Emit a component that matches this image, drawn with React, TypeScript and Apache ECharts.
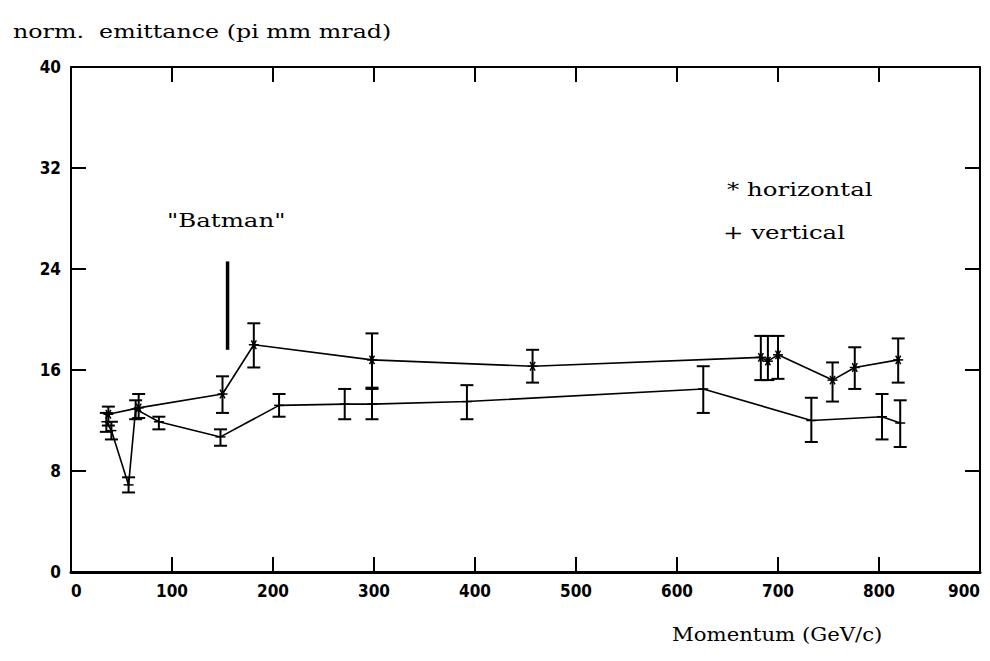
import React, { useEffect, useRef } from "react";
import * as echarts from "echarts";

// x-axis ticks (GeV/c) and y-axis ticks (pi mm mrad)
const xTicks = [0, 100, 200, 300, 400, 500, 600, 700, 800, 900];
const yTicks = [0, 8, 16, 24, 32, 40];

// horizontal emittance (*)
const hX = [37, 67, 150, 181, 298, 457, 683, 690, 700, 754, 776, 819];
const hY = [12.5, 13.0, 14.1, 18.0, 16.8, 16.3, 17.0, 16.7, 17.2, 15.2, 16.2, 16.8];
const hLo = [11.6, 12.2, 12.6, 16.2, 14.6, 15.0, 15.2, 15.2, 15.3, 13.5, 14.5, 15.0];
const hHi = [13.1, 14.1, 15.5, 19.7, 18.9, 17.6, 18.7, 18.7, 18.7, 16.6, 17.8, 18.5];

// vertical emittance (+)
const vX = [35, 40, 57, 64, 87, 148, 206, 271, 298, 392, 626, 733, 803, 821];
const vY = [11.9, 11.2, 6.9, 12.9, 11.9, 10.7, 13.2, 13.3, 13.3, 13.5, 14.5, 12.0, 12.3, 11.8];
const vLo = [11.1, 10.5, 6.3, 12.1, 11.3, 10.0, 12.3, 12.1, 12.1, 12.1, 12.6, 10.3, 10.5, 9.9];
const vHi = [12.6, 11.9, 7.5, 13.6, 12.3, 11.3, 14.1, 14.5, 14.5, 14.8, 16.3, 13.8, 14.1, 13.6];

// "Batman" marker line
const batmanX = 155;
const batmanY = [24.6, 17.6];

const SERIF = "'DejaVu Serif', 'Liberation Serif', serif";
const NARROW = "'Liberation Sans Narrow', 'DejaVu Sans Condensed', 'Liberation Sans', sans-serif";

const makeErr = (star: boolean) => (params: any, api: any) => {
  const x = api.value(0);
  const y = api.value(1);
  const lo = api.value(2);
  const hi = api.value(3);
  const c = api.coord([x, y]);
  const pl = api.coord([x, lo]);
  const ph = api.coord([x, hi]);
  const cap = 6.5;
  const st = { stroke: "#000", lineWidth: 2 };
  const children: any[] = [
    { type: "line", shape: { x1: pl[0], y1: pl[1], x2: ph[0], y2: ph[1] }, style: st },
    { type: "line", shape: { x1: pl[0] - cap, y1: pl[1], x2: pl[0] + cap, y2: pl[1] }, style: st },
    { type: "line", shape: { x1: ph[0] - cap, y1: ph[1], x2: ph[0] + cap, y2: ph[1] }, style: st },
  ];
  const ms = { stroke: "#000", lineWidth: 1.5 };
  if (star) {
    const r = 5;
    const dx = r * Math.cos(Math.PI / 3);
    const dy = r * Math.sin(Math.PI / 3);
    children.push(
      { type: "line", shape: { x1: c[0] - dx, y1: c[1] - dy, x2: c[0] + dx, y2: c[1] + dy }, style: ms },
      { type: "line", shape: { x1: c[0] - dx, y1: c[1] + dy, x2: c[0] + dx, y2: c[1] - dy }, style: ms },
      { type: "line", shape: { x1: c[0] - r, y1: c[1], x2: c[0] + r, y2: c[1] }, style: ms },
      { type: "circle", shape: { cx: c[0], cy: c[1], r: 2 }, style: { fill: "#000" } }
    );
  } else {
    children.push({ type: "line", shape: { x1: c[0] - 5, y1: c[1], x2: c[0] + 5, y2: c[1] }, style: ms });
  }
  return { type: "group", children };
};

export default function App() {
  const ref = useRef<HTMLDivElement>(null);
  useEffect(() => {
    if (!ref.current) return;
    const chart = echarts.init(ref.current, null, { renderer: "svg" });
    const hLine = hX.map((x, i) => [x, hY[i]]);
    const vLine = vX.map((x, i) => [x, vY[i]]);
    const hErr = hX.map((x, i) => [x, hY[i], hLo[i], hHi[i]]);
    const vErr = vX.map((x, i) => [x, vY[i], vLo[i], vHi[i]]);
    const axisLine = { show: true, onZero: false, lineStyle: { color: "#000", width: 2 } };
    const tick = { show: true, inside: true, length: 15, lineStyle: { color: "#000", width: 2 } };
    const xMin = xTicks[0];
    const xMax = xTicks[xTicks.length - 1];
    const yMin = yTicks[0];
    const yMax = yTicks[yTicks.length - 1];
    const labelStyle = {
      show: true,
      color: "#000",
      fontFamily: NARROW,
      fontSize: 17,
      fontWeight: "bold",
      margin: 10,
    };
    chart.setOption({
      animation: false,
      backgroundColor: "#fff",
      grid: { left: 71, right: 10, top: 67, bottom: 89, containLabel: false },
      xAxis: [
        {
          type: "value",
          position: "bottom",
          min: xMin,
          max: xMax,
          interval: 100,
          axisLine: { show: true, onZero: false, lineStyle: { color: "#000", width: 3 } },
          axisTick: tick,
          splitLine: { show: false },
          axisLabel: { ...labelStyle, alignMinLabel: "left", alignMaxLabel: "right" },
        },
        {
          type: "value",
          position: "top",
          min: xMin,
          max: xMax,
          interval: 100,
          axisLine: axisLine,
          axisTick: tick,
          splitLine: { show: false },
          axisLabel: { show: false },
        },
      ],
      yAxis: [
        {
          type: "value",
          position: "left",
          min: yMin,
          max: yMax,
          interval: 8,
          axisLine: axisLine,
          axisTick: tick,
          splitLine: { show: false },
          axisLabel: labelStyle,
        },
        {
          type: "value",
          position: "right",
          min: yMin,
          max: yMax,
          interval: 8,
          axisLine: axisLine,
          axisTick: tick,
          splitLine: { show: false },
          axisLabel: { show: false },
        },
      ],
      series: [
        {
          name: "horizontal",
          type: "line",
          data: hLine,
          showSymbol: false,
          symbol: "none",
          lineStyle: { color: "#000", width: 1.6 },
          z: 3,
        },
        {
          name: "vertical",
          type: "line",
          data: vLine,
          showSymbol: false,
          symbol: "none",
          lineStyle: { color: "#000", width: 1.6 },
          z: 3,
        },
        {
          name: "horizontal errors",
          type: "custom",
          renderItem: makeErr(true),
          data: hErr,
          encode: { x: 0, y: [1, 2, 3] },
          z: 4,
        },
        {
          name: "vertical errors",
          type: "custom",
          renderItem: makeErr(false),
          data: vErr,
          encode: { x: 0, y: [1, 2, 3] },
          z: 4,
        },
        {
          name: "batman",
          type: "line",
          data: batmanY.map((y) => [batmanX, y]),
          showSymbol: false,
          symbol: "none",
          lineStyle: { color: "#000", width: 3.5 },
        },
      ],
      graphic: [
        {
          type: "text",
          x: 13,
          y: 32,
          scaleX: 1.32,
          style: { text: "norm.  emittance (pi mm mrad)", fill: "#000", font: `18px ${SERIF}`, textAlign: "left", textVerticalAlign: "middle" },
        },
        {
          type: "text",
          x: 672,
          y: 635,
          scaleX: 1.18,
          style: { text: "Momentum (GeV/c)", fill: "#000", font: `18px ${SERIF}`, textAlign: "left", textVerticalAlign: "middle" },
        },
        {
          type: "text",
          x: 727,
          y: 190,
          scaleX: 1.36,
          style: { text: "* horizontal", fill: "#000", font: `18px ${SERIF}`, textAlign: "left", textVerticalAlign: "middle" },
        },
        {
          type: "text",
          x: 723,
          y: 233,
          scaleX: 1.36,
          style: { text: "+ vertical", fill: "#000", font: `18px ${SERIF}`, textAlign: "left", textVerticalAlign: "middle" },
        },
        {
          type: "text",
          x: 167,
          y: 221,
          scaleX: 1.36,
          style: { text: "\"Batman\"", fill: "#000", font: `18px ${SERIF}`, textAlign: "left", textVerticalAlign: "middle" },
        },
      ],
    });
    return () => chart.dispose();
  }, []);
  return <div ref={ref} style={{ position: "absolute", left: 0, top: 0, width: 990, height: 661 }} />;
}
